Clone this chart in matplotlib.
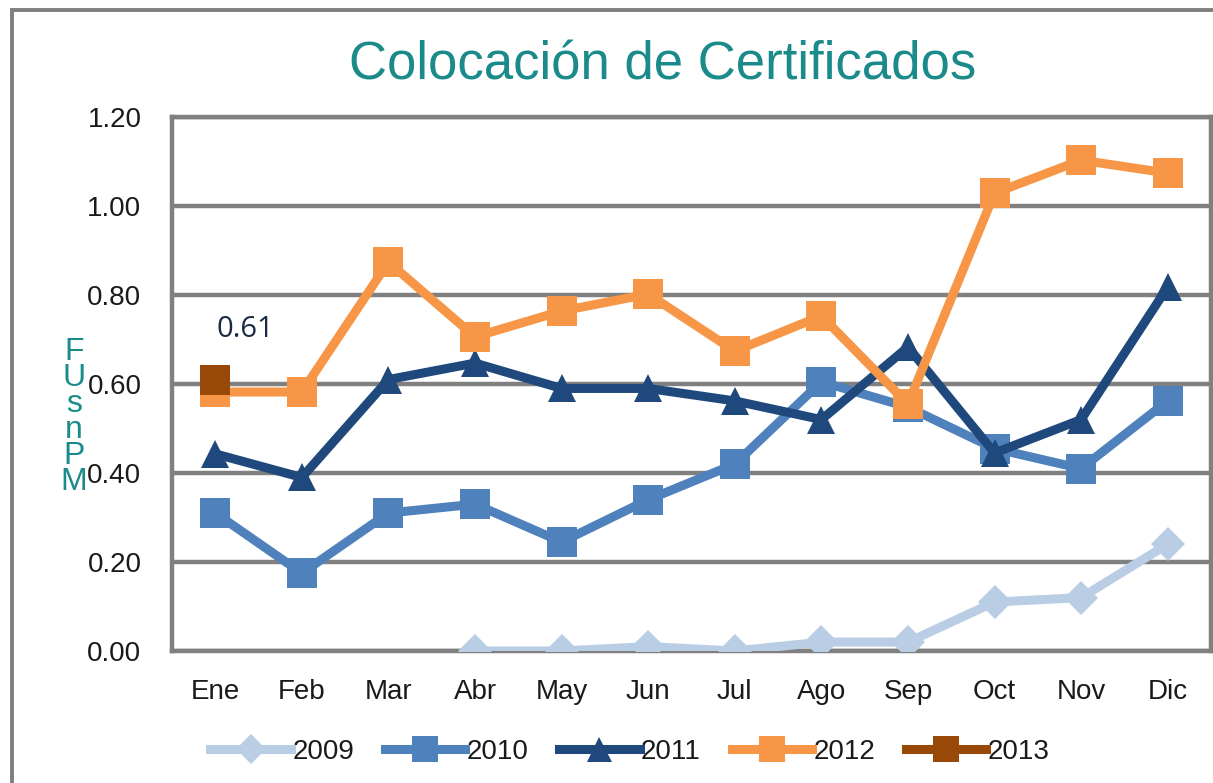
import numpy as np
import matplotlib
matplotlib.use("Agg")
import matplotlib.pyplot as plt
from matplotlib.patches import Rectangle

months = ["Ene", "Feb", "Mar", "Abr", "May", "Jun", "Jul", "Ago", "Sep", "Oct", "Nov", "Dic"]
nan = np.nan
s2009 = [nan, nan, nan, 0.00, 0.00, 0.01, 0.00, 0.02, 0.02, 0.11, 0.12, 0.24]
s2010 = [0.31, 0.175, 0.31, 0.33, 0.245, 0.34, 0.42, 0.605, 0.548, 0.455, 0.41, 0.562]
s2011 = [0.443, 0.39, 0.61, 0.647, 0.59, 0.59, 0.562, 0.52, 0.683, 0.445, 0.52, 0.818]
s2012 = [0.582, 0.582, 0.874, 0.706, 0.764, 0.802, 0.674, 0.753, 0.555, 1.029, 1.103, 1.074]
s2013 = [0.61, nan, nan, nan, nan, nan, nan, nan, nan, nan, nan, nan]
labels = ["2009", "2010", "2011", "2012", "2013"]
yticks = [0.0, 0.2, 0.4, 0.6, 0.8, 1.0, 1.2]

series = [s2009, s2010, s2011, s2012, s2013]
colors = ["#B9CDE5", "#4F81BD", "#1F497D", "#F79646", "#984807"]
markers = ["D", "s", "^", "s", "s"]
msizes = [17, 21, 20, 21, 21]

plt.rcParams['font.family'] = ['Liberation Sans', 'DejaVu Sans']

fig = plt.figure(figsize=(12.13, 7.83), dpi=100)
ax = fig.add_axes([172/1213, 1-651/783, (1211-172)/1213, (651-117)/783])

x = np.arange(len(months))
for s, c, m, ms, lab in zip(series, colors, markers, msizes, labels):
    ax.plot(x, s, color=c, lw=6.5, marker=m, markersize=ms, markeredgewidth=0,
            label=lab, solid_joinstyle='miter', zorder=3)

ax.annotate("0.61", (0, s2013[0]), xytext=(0.35, 0.722), textcoords='data',
            fontsize=21, color='#1b2a44', ha='center', va='center',
            family=['Open Sans', 'DejaVu Sans'])

ax.set_xlim(-0.5, 11.5)
ax.set_ylim(0, 1.2)
ax.set_yticks(yticks)
ax.set_yticklabels([f"{v:.2f}" for v in yticks])
ax.set_xticks(x)
ax.set_xticklabels(months)
ax.tick_params(axis='both', length=0, labelsize=20, colors='#1a1a1a')
ax.tick_params(axis='y', pad=22)
ax.tick_params(axis='x', pad=20)
ax.grid(axis='y', color='#808080', lw=3.2, zorder=1)
for sp in ax.spines.values():
    sp.set_color('#808080')
    sp.set_linewidth(3.2)

fig.text(663/1213, 1-66/783, "Colocación de Certificados", fontsize=38,
         color='#1B8A8A', ha='center', va='center')

fig.text(74/1213, 1-417/783, "F\nU\ns\nn\nP\nM", fontsize=23, color='#1B8A8A',
         ha='center', va='center', linespacing=0.82)

# outer chart frame
fig.patches.append(Rectangle((12/1213, -0.2), 1.5, 1-10/783+0.2, transform=fig.transFigure,
                             fill=False, edgecolor='#7f7f7f', lw=2.8))

leg = fig.legend(loc='center', bbox_to_anchor=(630/1213, 1-752/783), ncol=5,
                 frameon=False, fontsize=20, handlelength=2.9, handletextpad=0.05,
                 columnspacing=1.1, markerscale=0.9)
for t in leg.get_texts():
    t.set_color('#1a1a1a')

fig.savefig("out.png", dpi=100)
